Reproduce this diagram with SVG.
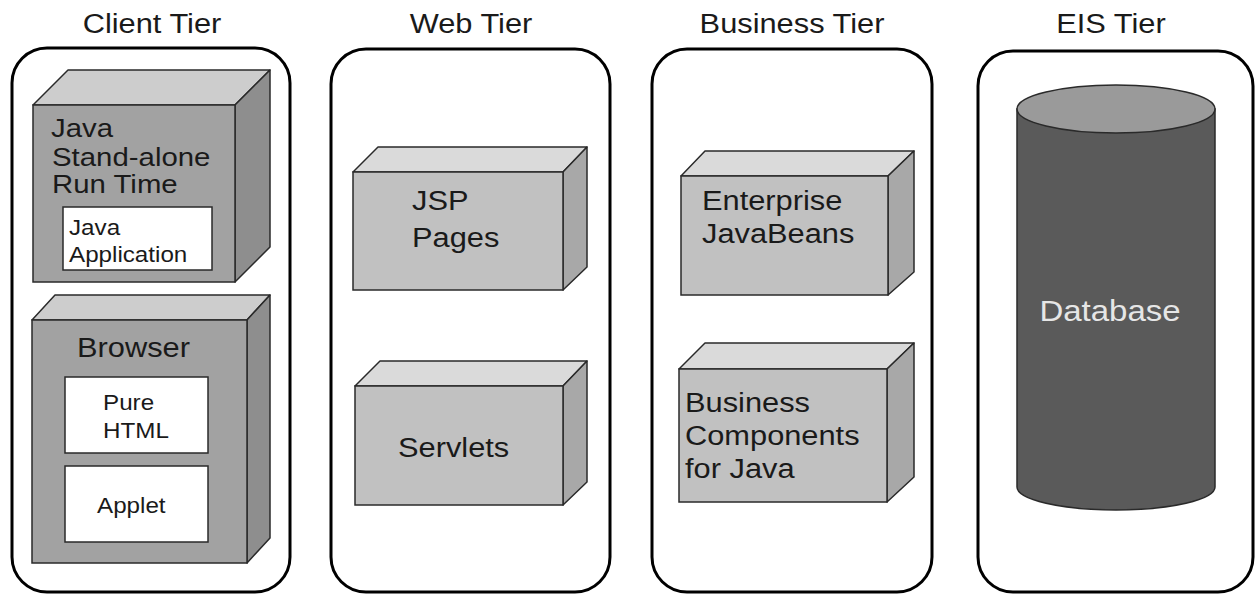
<svg xmlns="http://www.w3.org/2000/svg" width="1255" height="596" viewBox="0 0 1255 596">
<style>
text{font-family:"Liberation Sans",Arial,sans-serif;fill:#1a1a1a}
.tier{fill:#fff;stroke:#000;stroke-width:3}
.title{font-size:28px;text-anchor:middle}
.cf{fill:#a2a2a2;stroke:#2a2a2a;stroke-width:1.5}
.ct{fill:#cdcdcd;stroke:#2a2a2a;stroke-width:1.5;stroke-linejoin:round}
.cs{fill:#8e8e8e;stroke:#2a2a2a;stroke-width:1.5;stroke-linejoin:round}
.wf{fill:#c1c1c1;stroke:#2a2a2a;stroke-width:1.5}
.wt{fill:#dadada;stroke:#2a2a2a;stroke-width:1.5;stroke-linejoin:round}
.ws{fill:#a8a8a8;stroke:#2a2a2a;stroke-width:1.5;stroke-linejoin:round}
.wb{fill:#fff;stroke:#2a2a2a;stroke-width:1.5}
.big{font-size:28px}
.mid{font-size:26px}
.sm{font-size:22px}
</style>
<g id="tiers">
<g id="client-tier"><rect class="tier" x="12" y="48" width="278" height="544" rx="35"/><text class="title" transform="translate(152,33) scale(1.1,1)">Client Tier</text></g>
<g id="web-tier"><rect class="tier" x="331" y="49" width="279" height="543" rx="35"/><text class="title" transform="translate(471,33) scale(1.1,1)">Web Tier</text></g>
<g id="business-tier"><rect class="tier" x="652" y="49" width="280" height="543" rx="35"/><text class="title" transform="translate(792,33) scale(1.1,1)">Business Tier</text></g>
<g id="eis-tier"><rect class="tier" x="978" y="51" width="275" height="541" rx="35"/><text class="title" transform="translate(1111,33) scale(1.1,1)">EIS Tier</text></g>
</g>
<g id="java-runtime">
<polygon class="ct" points="33,105 68,70 270,70 235,105"/>
<polygon class="cs" points="235,105 270,70 270,247 235,282"/>
<rect class="cf" x="33" y="105" width="202" height="177"/>
<text class="mid" transform="translate(51,137) scale(1.13,1)">Java</text>
<text class="mid" transform="translate(52,166) scale(1.13,1)">Stand-alone</text>
<text class="mid" transform="translate(52,193) scale(1.13,1)">Run Time</text>
</g>
<g id="java-application">
<rect class="wb" x="63" y="207" width="149" height="63"/>
<text class="sm" transform="translate(69,235) scale(1.1,1)">Java</text>
<text class="sm" transform="translate(69,262) scale(1.1,1)">Application</text>
</g>
<g id="browser">
<polygon class="ct" points="32,320 55,295 270,295 247,320"/>
<polygon class="cs" points="247,320 270,295 270,538 247,563"/>
<rect class="cf" x="32" y="320" width="215" height="243"/>
<text class="big" transform="translate(77,357) scale(1.1,1)">Browser</text>
</g>
<g id="pure-html">
<rect class="wb" x="65" y="377" width="143" height="76"/>
<text class="sm" transform="translate(103,410) scale(1.1,1)">Pure</text>
<text class="sm" transform="translate(103,438) scale(1.1,1)">HTML</text>
</g>
<g id="applet">
<rect class="wb" x="65" y="466" width="143" height="76"/>
<text class="sm" transform="translate(97,513) scale(1.1,1)">Applet</text>
</g>
<g id="jsp-pages">
<polygon class="wt" points="353,172 378,147 587,147 563,172"/>
<polygon class="ws" points="563,172 587,147 587,267 563,290"/>
<rect class="wf" x="353" y="172" width="210" height="118"/>
<text class="big" transform="translate(412,210) scale(1.1,1)">JSP</text>
<text class="big" transform="translate(412,247) scale(1.1,1)">Pages</text>
</g>
<g id="servlets">
<polygon class="wt" points="355,386 380,361 587,361 563,386"/>
<polygon class="ws" points="563,386 587,361 587,482 563,505"/>
<rect class="wf" x="355" y="386" width="208" height="119"/>
<text class="big" transform="translate(398,457) scale(1.1,1)">Servlets</text>
</g>
<g id="ejb">
<polygon class="wt" points="681,176 705,151 914,151 888,176"/>
<polygon class="ws" points="888,176 914,151 914,272 888,295"/>
<rect class="wf" x="681" y="176" width="207" height="119"/>
<text class="big" transform="translate(702,210) scale(1.1,1)">Enterprise</text>
<text class="big" transform="translate(702,243) scale(1.1,1)">JavaBeans</text>
</g>
<g id="bc4j">
<polygon class="wt" points="679,369 705,343 914,343 887,369"/>
<polygon class="ws" points="887,369 914,343 914,477 887,502"/>
<rect class="wf" x="679" y="369" width="208" height="133"/>
<text class="big" transform="translate(685,412) scale(1.1,1)">Business</text>
<text class="big" transform="translate(685,445) scale(1.1,1)">Components</text>
<text class="big" transform="translate(685,478) scale(1.1,1)">for Java</text>
</g>
<g id="database">
<path d="M1017,109 L1017,487 A99,23 0 0 0 1215,487 L1215,109 Z" fill="#5a5a5a" stroke="#2a2a2a" stroke-width="1.5"/>
<ellipse cx="1116" cy="109" rx="99" ry="24" fill="#9a9a9a" stroke="#2a2a2a" stroke-width="1.5"/>
<text transform="translate(1110,321) scale(1.1,1)" style="font-size:30px;text-anchor:middle;fill:#e6e6e6">Database</text>
</g>
<g id="connectors"/>
</svg>
